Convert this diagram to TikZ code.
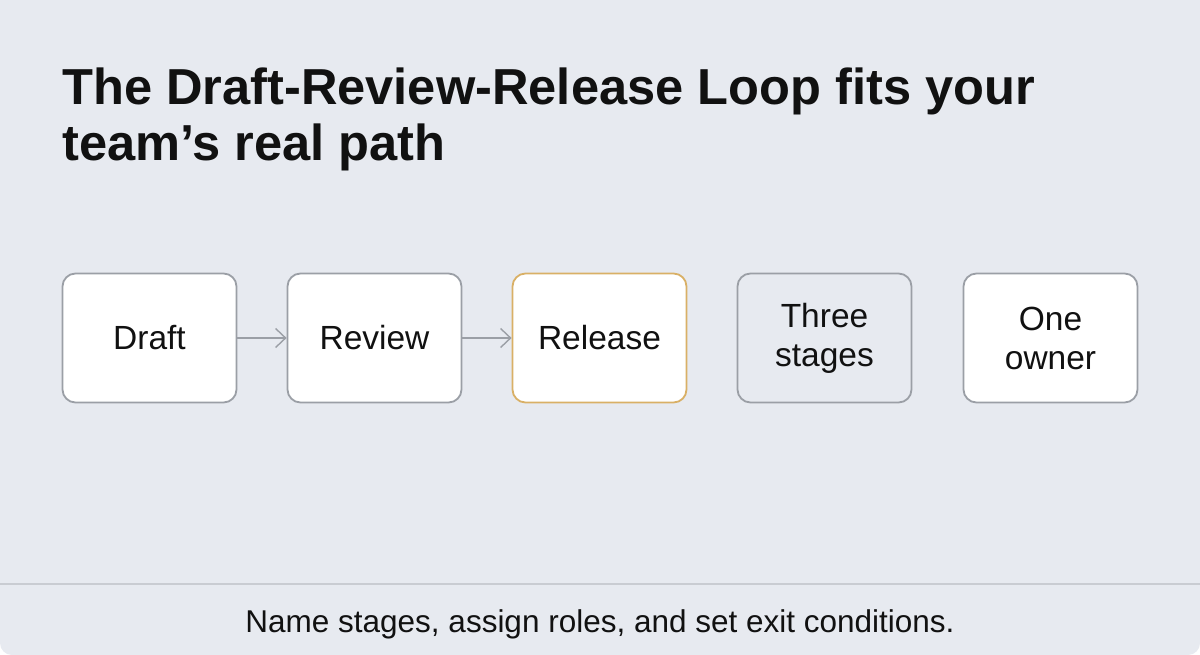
\documentclass[tikz,border=0pt]{standalone}
\usepackage{fontspec}
\setmainfont{Liberation Sans}
\usetikzlibrary{arrows.meta}
\definecolor{bg}{HTML}{E7EAF0}
\definecolor{edge}{HTML}{9B9FA6}
\definecolor{gold}{HTML}{D9B066}
\definecolor{sepline}{HTML}{C9CCD2}
\definecolor{ink}{HTML}{111111}
\tikzset{
  stagebox/.style={draw=edge, line width=1.8pt, rounded corners=13pt, fill=white,
    minimum width=174pt, minimum height=129pt, inner sep=0pt, align=center,
    font=\fontsize{33.5}{39}\selectfont, text=ink},
  flow/.style={draw=edge, line width=1.4pt, -{Straight Barb[length=10pt,width=19pt,line width=1.4pt]}},
}
\begin{document}
\begin{tikzpicture}[x=1pt,y=-1pt]
\useasboundingbox (0,0) rectangle (1200,655);
\fill[white] (0,0) rectangle (1200,655);
\fill[bg, rounded corners=12pt] (0,-20) rectangle (1200,655);
\node[anchor=base west, inner sep=0pt, font=\fontsize{50.6}{57}\bfseries\selectfont, text=ink] (t1) at (62,105) {The Draft-Review-Release Loop fits your};
\node[anchor=base west, inner sep=0pt, font=\fontsize{50.6}{57}\bfseries\selectfont, text=ink] (t2) at (62,161) {team’s real path};
\node[stagebox] (draft) at (149.5,338) {Draft};
\node[stagebox] (review) at (374.5,338) {Review};
\node[stagebox, draw=gold] (release) at (599.5,338) {Release};
\node[stagebox, fill=bg] (three) at (824.5,338) {Three\\stages};
\node[stagebox] (owner) at (1050.5,338) {One\\owner};
\draw[flow] (draft) -- (review);
\draw[flow] (review) -- (release);
\coordinate (sl) at (0,584);
\coordinate (sr) at (1200,584);
\draw[sepline, line width=1.5pt] (sl) -- (sr);
\node[anchor=base, inner sep=0pt, font=\fontsize{31.5}{36}\selectfont, text=ink] (foot) at (600,632) {Name stages, assign roles, and set exit conditions.};
\end{tikzpicture}
\end{document}
